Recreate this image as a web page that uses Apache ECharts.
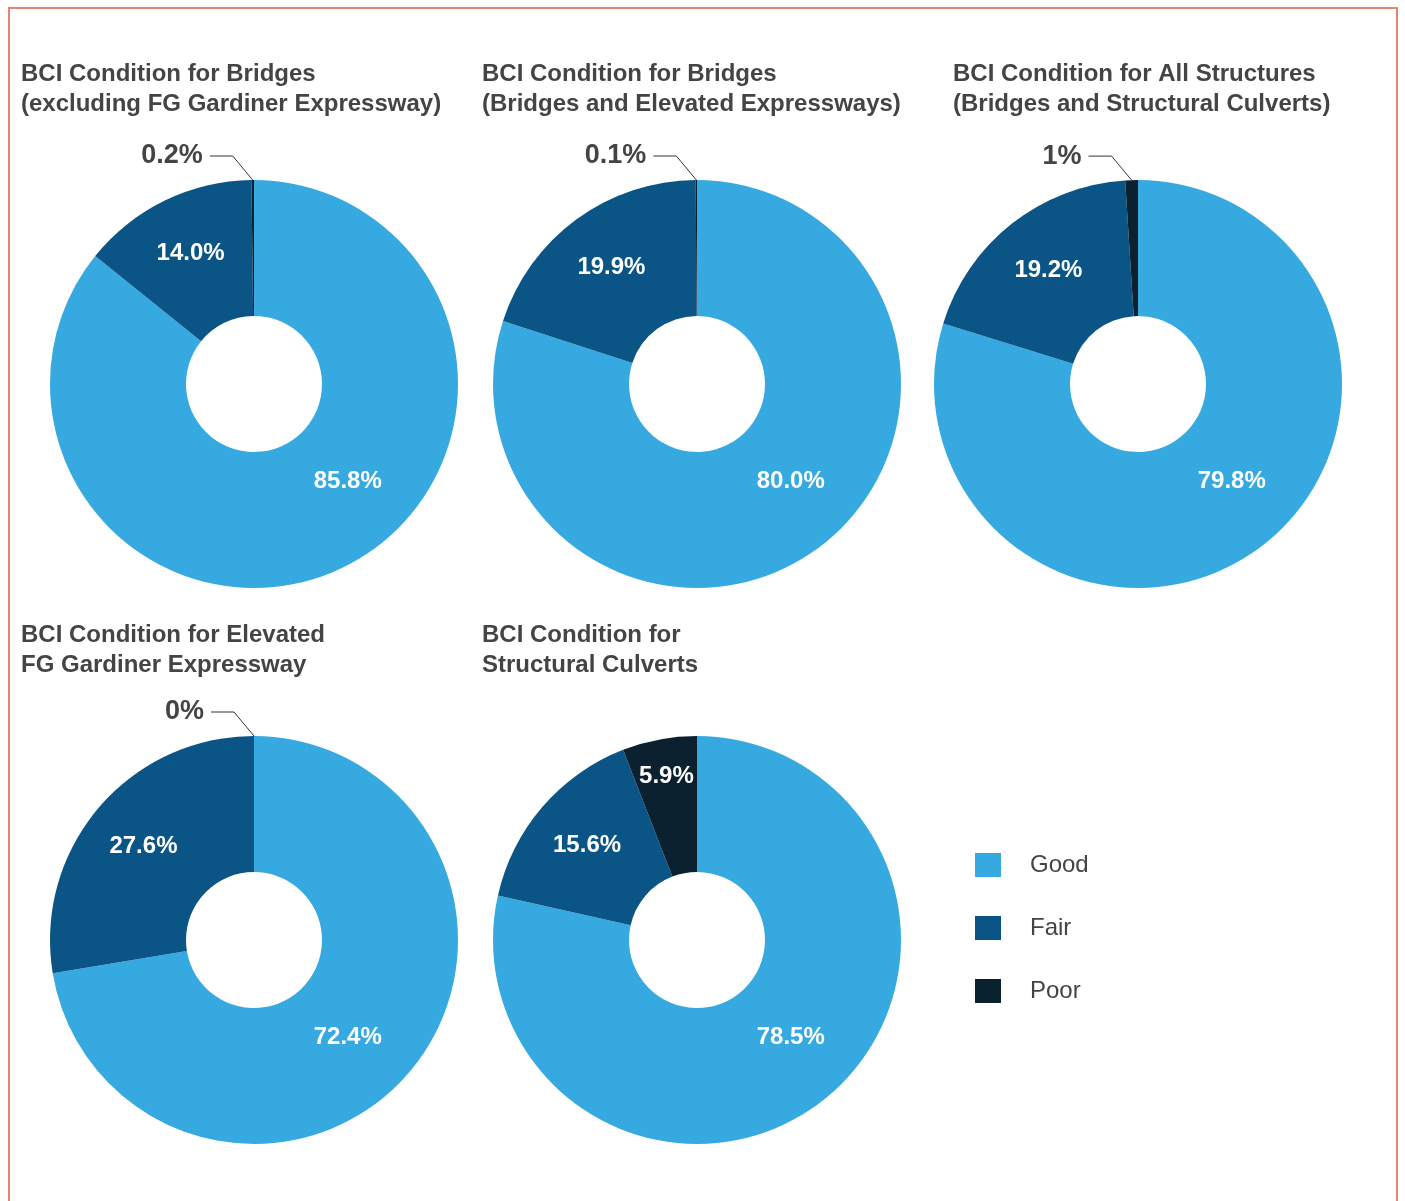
<!DOCTYPE html>
<html>
<head>
<meta charset="utf-8">
<title>BCI Condition</title>
<script src="https://cdn.jsdelivr.net/npm/echarts@6/dist/echarts.min.js"></script>
<style>
  html, body { margin: 0; padding: 0; background: #fff; }
  #chart { width: 1405px; height: 1201px; }
</style>
</head>
<body>
<div id="chart"></div>
<script>
// Condition categories (share of structures, %)
const categories = ['Good', 'Fair', 'Poor'];

const titles = [
  'BCI Condition for Bridges\n(excluding FG Gardiner Expressway)',
  'BCI Condition for Bridges\n(Bridges and Elevated Expressways)',
  'BCI Condition for All Structures\n(Bridges and Structural Culverts)',
  'BCI Condition for Elevated\nFG Gardiner Expressway',
  'BCI Condition for\nStructural Culverts'
];

const bridgesExclGardiner   = [85.8, 14.0, 0.2];
const bridgesAndExpressways = [80.0, 19.9, 0.1];
const allStructures         = [79.8, 19.2, 1];
const gardinerExpressway    = [72.4, 27.6, 0];
const structuralCulverts    = [78.5, 15.6, 5.9];

const panels = [bridgesExclGardiner, bridgesAndExpressways, allStructures, gardinerExpressway, structuralCulverts];

// ---- layout & style ----
const COLORS = ['#36a9e0', '#0b5486', '#0b2130'];
const TEXT = '#444444';
const FONT = '"Liberation Sans", Arial, sans-serif';
const CENTERS = [[254, 384], [697, 384], [1138, 384], [254, 940], [697, 940]];
const TITLE_POS = [[21, 59], [482, 59], [953, 59], [21, 620], [482, 620]];
const R_IN = 68, R_OUT = 204;
const SMALL = 2; // slices under this share get an outside label

function polar(c, r, deg) {
  const a = deg * Math.PI / 180;
  return [c[0] + r * Math.sin(a), c[1] - r * Math.cos(a)];
}

function midAngle(values, idx) {
  const total = values.reduce((s, v) => s + v, 0);
  let before = 0;
  for (let k = 0; k < idx; k++) before += values[k];
  return (before + values[idx] / 2) / total * 360;
}

function makeLabelLayout(i) {
  const values = panels[i];
  const c = CENTERS[i];
  return function (p) {
    const idx = p.dataIndex;
    const v = values[idx];
    if (idx === 0) {
      const pt = polar(c, 135, 136);
      return { x: pt[0], y: pt[1], align: 'center', verticalAlign: 'middle' };
    }
    const mid = midAngle(values, idx);
    if (v < SMALL) {
      const e = polar(c, R_OUT, mid);
      const p1 = [e[0] - 20, e[1] - 24];
      const p2 = [p1[0] - 23, p1[1]];
      return {
        x: p2[0] - 7, y: p2[1], align: 'right', verticalAlign: 'middle',
        labelLinePoints: [e, p1, p2]
      };
    }
    const pt = polar(c, idx === 1 ? 145 : 166, mid);
    return { x: pt[0], y: pt[1], align: 'center', verticalAlign: 'middle' };
  };
}

const series = panels.map((values, i) => ({
  type: 'pie',
  center: CENTERS[i],
  radius: [R_IN, R_OUT],
  startAngle: 90,
  clockwise: true,
  avoidLabelOverlap: false,
  silent: true,
  label: {
    show: true,
    position: 'inside',
    color: '#ffffff',
    fontFamily: FONT,
    fontWeight: 'bold',
    fontSize: 24,
    formatter: p => p.value.toFixed(1) + '%'
  },
  labelLine: { show: false },
  labelLayout: makeLabelLayout(i),
  data: values.map((v, k) => {
    const item = { name: categories[k], value: v, itemStyle: { color: COLORS[k] } };
    if (v < SMALL) {
      item.label = {
        position: 'outside',
        color: TEXT,
        fontSize: 27,
        formatter: p => String(p.value) + '%'
      };
      item.labelLine = { show: true, lineStyle: { color: '#333333', width: 1 } };
    }
    return item;
  })
}));

const option = {
  backgroundColor: '#ffffff',
  animation: false,
  color: COLORS,
  title: titles.map((t, i) => ({
    text: t,
    left: TITLE_POS[i][0],
    top: TITLE_POS[i][1],
    padding: 0,
    textStyle: {
      fontFamily: FONT,
      fontSize: 24,
      fontWeight: 'bold',
      color: TEXT,
      lineHeight: 30
    }
  })),
  legend: {
    orient: 'vertical',
    left: 975,
    top: 853,
    padding: 0,
    itemWidth: 26,
    itemHeight: 24,
    itemGap: 39,
    icon: 'rect',
    selectedMode: false,
    data: categories,
    textStyle: {
      fontFamily: FONT,
      fontSize: 24,
      color: TEXT,
      padding: [0, 0, 0, 24]
    }
  },
  graphic: [{
    type: 'polyline',
    silent: true,
    shape: { points: [[9, 1215], [9, 8], [1397, 8], [1397, 1215]] },
    style: { stroke: '#e9836d', lineWidth: 2, fill: null }
  }],
  series: series
};

const chart = echarts.init(document.getElementById('chart'), null, { renderer: 'canvas' });
chart.setOption(option);
</script>
</body>
</html>
